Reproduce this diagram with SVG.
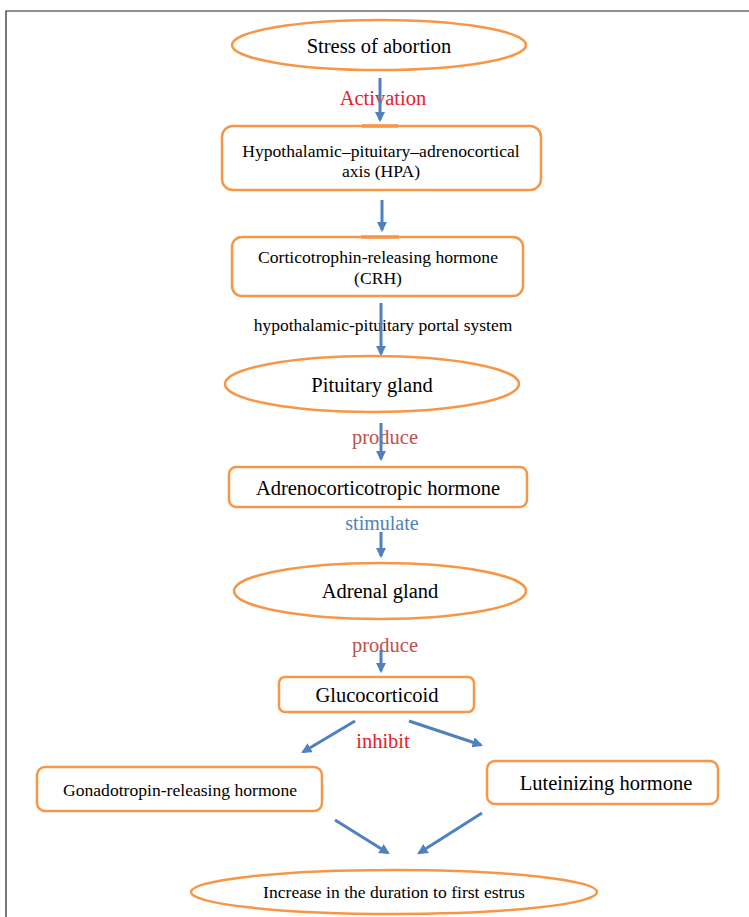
<svg xmlns="http://www.w3.org/2000/svg" width="749" height="917" viewBox="0 0 749 917">
<style>
.n{fill:#fff;stroke:#f79646;stroke-width:2.5}
.t{font-family:"Liberation Serif","Times New Roman",serif;fill:#000;text-anchor:middle}
.a{stroke:#4f81bd;stroke-width:3;fill:none;marker-end:url(#ah)}
.red{fill:#e8202a}
.dred{fill:#c0504d}
.blue{fill:#4f81bd}
</style>
<defs>
<marker id="ah" viewBox="0 0 10 10" refX="8" refY="5" markerWidth="3.5" markerHeight="3.5" orient="auto" markerUnits="strokeWidth">
<path d="M0,0 L10,5 L0,10 z" fill="#4f81bd"/>
</marker>
</defs>
<rect width="749" height="917" fill="#fff"/>
<path d="M6,917 V11 H749" fill="none" stroke="#222" stroke-width="1.2"/>

<g id="connectors">
<text class="t red" x="383" y="105" font-size="20.5">Activation</text>
<text class="t" x="383" y="331" font-size="17.5">hypothalamic-pituitary portal system</text>
<text class="t dred" x="385" y="444" font-size="20.5">produce</text>
<text class="t blue" x="382" y="530" font-size="20">stimulate</text>
<text class="t dred" x="385" y="652" font-size="20.5">produce</text>
<text class="t red" x="383" y="748" font-size="20.5">inhibit</text>
<line class="a" x1="380" y1="78" x2="380" y2="120"/>
<line class="a" x1="382" y1="200" x2="382" y2="230"/>
<line class="a" x1="381" y1="303" x2="381" y2="354"/>
<line class="a" x1="381" y1="423" x2="381" y2="459"/>
<line class="a" x1="381" y1="532" x2="381" y2="556"/>
<line class="a" x1="381" y1="650" x2="381" y2="671"/>
<line class="a" x1="355" y1="721" x2="303" y2="752"/>
<line class="a" x1="409" y1="721" x2="481" y2="745"/>
<line class="a" x1="335" y1="820" x2="388" y2="853"/>
<line class="a" x1="482" y1="813" x2="419" y2="853"/>
</g>

<g id="stress">
<ellipse class="n" cx="379" cy="45" rx="147" ry="25"/>
<text class="t" x="379" y="53" font-size="20.5">Stress of abortion</text>
</g>
<g id="hpa">
<rect class="n" x="222" y="126" width="319" height="64" rx="11"/>
<line x1="362" y1="126" x2="398" y2="126" stroke="#f79646" stroke-width="3.5"/>
<text class="t" x="381" y="157" font-size="17.6">Hypothalamic–pituitary–adrenocortical</text>
<text class="t" x="381" y="177" font-size="17.6">axis (HPA)</text>
</g>
<g id="crh">
<rect class="n" x="232" y="237" width="291" height="59" rx="10"/>
<line x1="361" y1="237" x2="399" y2="237" stroke="#f79646" stroke-width="3.5"/>
<text class="t" x="378" y="263" font-size="17.6">Corticotrophin-releasing hormone</text>
<text class="t" x="378" y="284" font-size="17.6">(CRH)</text>
</g>
<g id="pituitary">
<ellipse class="n" cx="372" cy="384" rx="147" ry="28"/>
<text class="t" x="372" y="392" font-size="20.5">Pituitary gland</text>
</g>
<g id="acth">
<rect class="n" x="229" y="467" width="298" height="40" rx="7"/>
<text class="t" x="378" y="495" font-size="20.5">Adrenocorticotropic hormone</text>
</g>
<g id="adrenal">
<ellipse class="n" cx="380" cy="591" rx="146" ry="28"/>
<text class="t" x="380" y="598" font-size="20.5">Adrenal gland</text>
</g>
<g id="gluco">
<rect class="n" x="279" y="677" width="195" height="35" rx="6"/>
<text class="t" x="377" y="702" font-size="20.5">Glucocorticoid</text>
</g>
<g id="gnrh">
<rect class="n" x="37" y="767" width="285" height="44" rx="8"/>
<text class="t" x="180" y="796" font-size="17.6">Gonadotropin-releasing hormone</text>
</g>
<g id="lh">
<rect class="n" x="487" y="761" width="231" height="43" rx="8"/>
<text class="t" x="606" y="790" font-size="20.5">Luteinizing hormone</text>
</g>
<g id="estrus">
<ellipse class="n" cx="394" cy="892" rx="203" ry="22"/>
<text class="t" x="394" y="898" font-size="17.6">Increase in the duration to first estrus</text>
</g>
</svg>
